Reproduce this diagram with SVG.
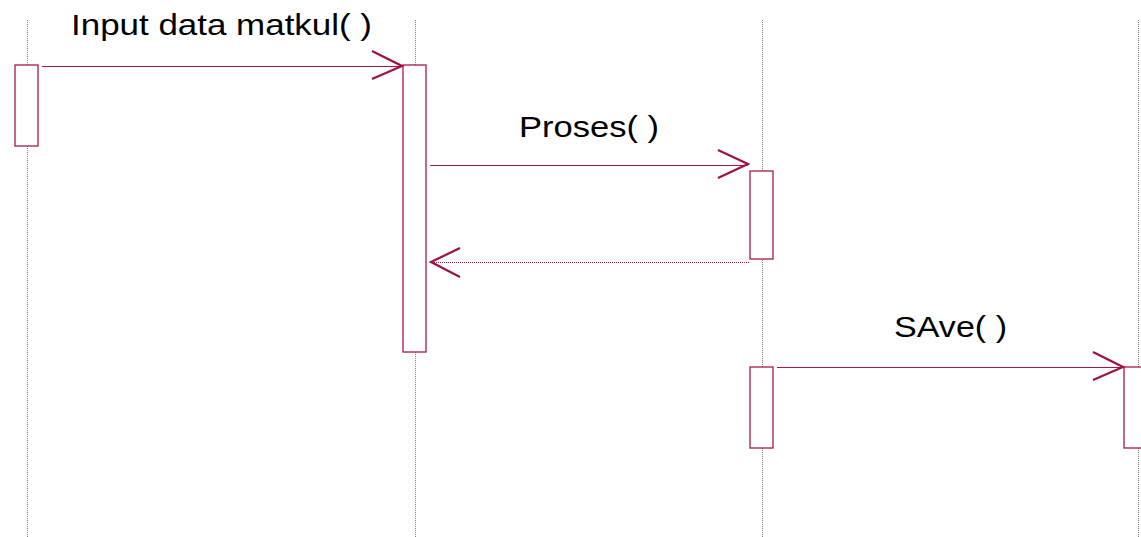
<svg xmlns="http://www.w3.org/2000/svg" width="1141" height="537" viewBox="0 0 1141 537">
  <style>
    .lifeline { stroke: #808080; stroke-width: 1; stroke-dasharray: 1 1; fill: none; }
    .act { fill: #ffffff; stroke: #a8174a; stroke-width: 1.3; }
    .msg { stroke: #a8174a; stroke-width: 1.2; fill: none; }
    .ret { stroke: #a8174a; stroke-width: 1.2; fill: none; stroke-dasharray: 1 1; }
    .head { stroke: #a0103c; stroke-width: 2.2; fill: none; }
    .label { font-family: "Liberation Sans", Arial, sans-serif; font-size: 30px; fill: #000000; }
  </style>
  <rect width="1141" height="537" fill="#ffffff"/>

  <!-- lifelines -->
  <g id="lifelines">
    <line class="lifeline" x1="27.5" y1="20" x2="27.5" y2="537"/>
    <line class="lifeline" x1="415.5" y1="20" x2="415.5" y2="537"/>
    <line class="lifeline" x1="762.5" y1="20" x2="762.5" y2="537"/>
    <line class="lifeline" x1="1138.5" y1="20" x2="1138.5" y2="537"/>
  </g>

  <!-- activation boxes -->
  <g id="act-user"><rect class="act" x="15" y="65" width="23" height="81"/></g>
  <g id="act-form"><rect class="act" x="403" y="65" width="23" height="287"/></g>
  <g id="act-proses"><rect class="act" x="750" y="171" width="23" height="88"/></g>
  <g id="act-proses2"><rect class="act" x="750" y="367" width="23" height="81"/></g>
  <g id="act-db"><rect class="act" x="1124" y="367" width="23" height="81"/></g>

  <!-- messages -->
  <g id="connectors">
    <line class="msg" x1="42" y1="66.5" x2="402" y2="66.5"/>
    <polyline class="head" points="372,51 402,66 372,79"/>

    <line class="msg" x1="430" y1="165.5" x2="748" y2="165.5"/>
    <polyline class="head" points="718,150 748,164 718,178"/>

    <line class="ret" x1="749" y1="262.5" x2="432" y2="262.5"/>
    <polyline class="head" points="460,248 431,262 460,277"/>

    <line class="msg" x1="777" y1="367.5" x2="1123" y2="367.5"/>
    <polyline class="head" points="1093,352 1123,367 1093,380"/>
  </g>

  <!-- labels -->
  <g id="labels">
    <text class="label" x="71" y="35" textLength="301" lengthAdjust="spacingAndGlyphs">Input data matkul( )</text>
    <text class="label" x="519" y="137" textLength="140" lengthAdjust="spacingAndGlyphs">Proses( )</text>
    <text class="label" x="894" y="337" textLength="113" lengthAdjust="spacingAndGlyphs">SAve( )</text>
  </g>
</svg>
